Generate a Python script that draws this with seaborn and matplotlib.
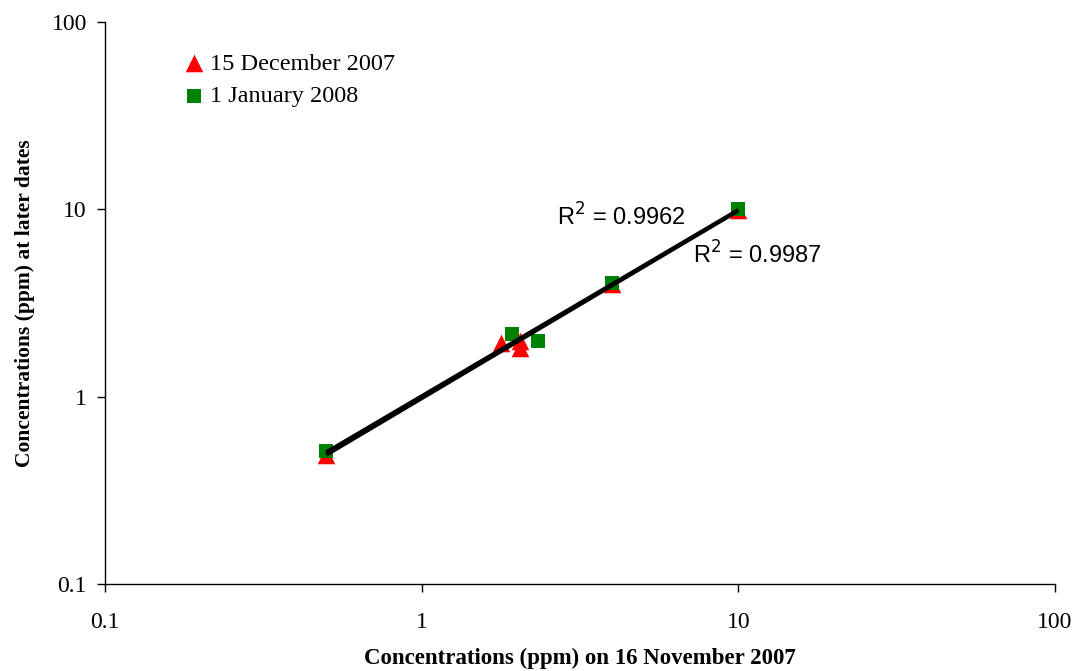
import numpy as np
import pandas as pd
import matplotlib
matplotlib.use("Agg")
import matplotlib.pyplot as plt
import seaborn as sns

sns.set_style("white")
plt.rcParams['font.family'] = ['Liberation Serif', 'DejaVu Serif']
plt.rcParams['text.color'] = 'black'
plt.rcParams['axes.labelcolor'] = 'black'
plt.rcParams['xtick.color'] = 'black'
plt.rcParams['ytick.color'] = 'black'

# Data
nov_dec = [0.5, 1.78, 2.05, 2.05, 4.0, 10.0]
dec_vals = [0.49, 1.94, 1.98, 1.82, 4.0, 9.9]
nov_jan = [0.5, 1.93, 2.33, 4.0, 10.0]
jan_vals = [0.51, 2.16, 1.98, 4.05, 10.1]
labels = ["15 December 2007", "1 January 2008"]
r2_texts = ["R$^2$ = 0.9962", "R$^2$ = 0.9987"]

df_dec = pd.DataFrame({"x": nov_dec, "y": dec_vals})
df_jan = pd.DataFrame({"x": nov_jan, "y": jan_vals})

fig = plt.figure(figsize=(10.76, 6.71), dpi=100)
ax = fig.add_axes([105/1076, 1 - 584/671, (1055-105)/1076, (584-22)/671])

sns.scatterplot(data=df_dec, x="x", y="y", marker="^", color="red", s=160,
                edgecolor="red", linewidth=0, label=labels[0], ax=ax, zorder=3)
sns.scatterplot(data=df_jan, x="x", y="y", marker="s", color="green", s=110,
                edgecolor="green", linewidth=0, label=labels[1], ax=ax, zorder=3)

# power-law trendlines
for xs, ys in [(nov_dec, dec_vals), (nov_jan, jan_vals)]:
    b, a = np.polyfit(np.log10(xs), np.log10(ys), 1)
    xx = np.array([min(xs), max(xs)])
    yy = 10 ** (a + b * np.log10(xx))
    ax.plot(xx, yy, color="black", lw=3, zorder=4, solid_capstyle="butt")

ax.set_xscale("log")
ax.set_yscale("log")
ax.set_xlim(0.1, 100)
ax.set_ylim(0.1, 100)
ax.set_xticks([0.1, 1, 10, 100])
ax.set_xticklabels(["0.1", "1", "10", "100"])
ax.set_yticks([0.1, 1, 10, 100])
ax.set_yticklabels(["0.1", "1", "10", "100"])
ax.minorticks_off()
ax.tick_params(axis="both", which="major", direction="out", length=6, width=1,
               labelsize=17, color="black", labelcolor="black",
               bottom=True, left=True, pad=7)
ax.tick_params(axis="x", pad=14)
for s in ["top", "right"]:
    ax.spines[s].set_visible(False)
for s in ["left", "bottom"]:
    ax.spines[s].set_color("black")
    ax.spines[s].set_linewidth(1)

ax.set_xlabel("Concentrations (ppm) on 16 November 2007", fontsize=16.5,
              fontweight="bold", labelpad=11, color="black")
ax.set_ylabel("Concentrations (ppm) at later dates", fontsize=15.5,
              fontweight="bold", labelpad=12, color="black")

ax.text(557/1076, 1 - 217/671, r2_texts[0], transform=fig.transFigure,
        fontsize=17, family="Liberation Sans", va="center", ha="left", color="black")
ax.text(693/1076, 1 - 255/671, r2_texts[1], transform=fig.transFigure,
        fontsize=17, family="Liberation Sans", va="center", ha="left", color="black")

leg = ax.legend(loc="upper left", bbox_to_anchor=(0.067, 0.963), frameon=False,
                fontsize=17.5, handletextpad=0.0, labelspacing=0.45,
                borderaxespad=0, handlelength=1.3, labelcolor="black")

fig.savefig("out.png", dpi=100)
